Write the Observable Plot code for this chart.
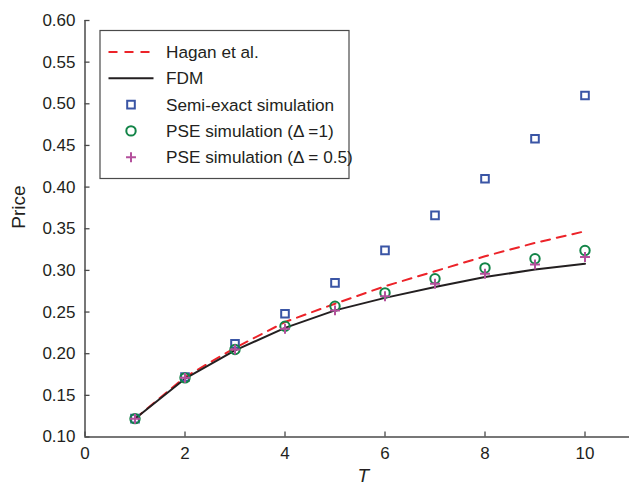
<!DOCTYPE html>
<html>
<head>
<meta charset="utf-8">
<script src="https://cdn.jsdelivr.net/npm/d3@7"></script>
<script src="https://cdn.jsdelivr.net/npm/@observablehq/plot@0.6"></script>
<style>
  html, body { margin: 0; padding: 0; background: #fff; }
  #chart { position: relative; width: 629px; height: 491px; }
  svg { font-family: "Liberation Sans", Arial, Helvetica, sans-serif; }
</style>
</head>
<body>
<div id="chart"></div>
<script>
const T = [1, 2, 3, 4, 5, 6, 7, 8, 9, 10];
const hagan = [0.122, 0.172, 0.207, 0.238, 0.260, 0.281, 0.299, 0.317, 0.333, 0.347];
const fdm = [0.122, 0.170, 0.204, 0.231, 0.252, 0.267, 0.280, 0.292, 0.301, 0.308];
const semiExact = [0.122, 0.172, 0.212, 0.248, 0.285, 0.324, 0.366, 0.410, 0.458, 0.510];
const pse1 = [0.122, 0.171, 0.205, 0.233, 0.257, 0.273, 0.290, 0.303, 0.314, 0.324];
const pse05 = [0.122, 0.171, 0.205, 0.230, 0.252, 0.269, 0.284, 0.296, 0.307, 0.316];

const xTicks = [0, 2, 4, 6, 8, 10];
const yTicks = [0.10, 0.15, 0.20, 0.25, 0.30, 0.35, 0.40, 0.45, 0.50, 0.55, 0.60];

const seriesNames = ["Hagan et al.", "FDM", "Semi-exact simulation", "PSE simulation (\u0394 =1)", "PSE simulation (\u0394 = 0.5)"];

const RED = "#ec2329", BLACK = "#231f20", BLUE = "#3a55a5", GREEN = "#128447", MAGENTA = "#b4509c", AXIS = "#4a4a4a";

const rows = (ys) => T.map((t, i) => ({T: t, v: ys[i]}));

const W = 629, H = 491;
const ML = 84.5, MR = 0, MT = 20, MB = 54.5;
const plotW = W - ML - MR, plotH = H - MT - MB;
const TICK = 5;

const plot = Plot.plot({
  width: W,
  height: H,
  marginLeft: ML,
  marginRight: MR,
  marginTop: MT,
  marginBottom: MB,
  style: {fontFamily: '"Liberation Sans", Arial, Helvetica, sans-serif', fontSize: "17px", color: BLACK, background: "#fff"},
  x: {domain: [0, 10.89], label: null},
  y: {domain: [0.1, 0.6], label: null},
  marks: [
    Plot.axisX(xTicks, {tickSize: 0, tickPadding: 10, fill: BLACK, fontSize: 17, label: null}),
    Plot.axisY(yTicks, {tickSize: 0, tickPadding: 9.5, fill: BLACK, fontSize: 17, tickFormat: d3.format(".2f"), label: null}),
    Plot.tickX(xTicks, {x: (d) => d, insetTop: plotH - TICK, stroke: AXIS, strokeWidth: 1.3}),
    Plot.tickY(yTicks, {y: (d) => d, insetRight: plotW - TICK, stroke: AXIS, strokeWidth: 1.3}),
    Plot.ruleX([0], {y1: 0.1, y2: 0.6, stroke: AXIS, strokeWidth: 1.5}),
    Plot.ruleY([0.1], {stroke: AXIS, strokeWidth: 1.5}),
    Plot.line(rows(hagan), {x: "T", y: "v", stroke: RED, strokeWidth: 2, strokeDasharray: "9,7"}),
    Plot.line(rows(fdm), {x: "T", y: "v", stroke: BLACK, strokeWidth: 2}),
    Plot.dot(rows(semiExact), {x: "T", y: "v", symbol: "square", r: 4.3, stroke: BLUE, strokeWidth: 2, fill: "none"}),
    Plot.dot(rows(pse1), {x: "T", y: "v", symbol: "circle", r: 4.7, stroke: GREEN, strokeWidth: 2, fill: "none"}),
    Plot.dot(rows(pse05), {x: "T", y: "v", symbol: "plus", r: 3.3, stroke: MAGENTA, strokeWidth: 2}),
    Plot.text(["T"], {frameAnchor: "bottom", dy: 45, dx: 6, fontSize: 19, fontStyle: "italic", fill: BLACK}),
    Plot.text(["Price"], {frameAnchor: "left", rotate: -90, dx: -66.5, fontSize: 19, fill: BLACK})
  ]
});

document.getElementById("chart").appendChild(plot);

// Legend drawn inside the plot area
const svg = d3.select(plot);
const lg = svg.append("g").attr("class", "legend").attr("text-anchor", "start");
const lx = 100, ly = 30.5, lw = 249, lh = 148;
lg.append("rect").attr("x", lx).attr("y", ly).attr("width", lw).attr("height", lh)
  .attr("fill", "#fff").attr("stroke", AXIS).attr("stroke-width", 1.2);
const rowY = (i) => ly + 21.5 + i * 26.3;
const sx1 = lx + 8.5, sx2 = lx + 53.5, sxm = (sx1 + sx2) / 2, tx = lx + 66;
const symbolPath = (type, r) => d3.symbol(type, Math.PI * r * r)();
seriesNames.forEach((name, i) => {
  const y = rowY(i);
  if (i === 0) {
    lg.append("line").attr("x1", sx1).attr("x2", sx2).attr("y1", y).attr("y2", y)
      .attr("stroke", RED).attr("stroke-width", 2).attr("stroke-dasharray", "9,7");
  } else if (i === 1) {
    lg.append("line").attr("x1", sx1).attr("x2", sx2).attr("y1", y).attr("y2", y)
      .attr("stroke", BLACK).attr("stroke-width", 2);
  } else if (i === 2) {
    lg.append("path").attr("d", symbolPath(d3.symbolSquare, 4.3)).attr("transform", `translate(${sxm},${y})`)
      .attr("fill", "none").attr("stroke", BLUE).attr("stroke-width", 2);
  } else if (i === 3) {
    lg.append("path").attr("d", symbolPath(d3.symbolCircle, 4.7)).attr("transform", `translate(${sxm},${y})`)
      .attr("fill", "none").attr("stroke", GREEN).attr("stroke-width", 2);
  } else {
    lg.append("path").attr("d", symbolPath(d3.symbolPlus, 3.3)).attr("transform", `translate(${sxm},${y})`)
      .attr("fill", "none").attr("stroke", MAGENTA).attr("stroke-width", 2);
  }
  lg.append("text").attr("x", tx).attr("y", y).attr("dy", "0.35em").attr("text-anchor", "start")
    .attr("font-size", 17.2).attr("fill", BLACK).text(name);
});
</script>
</body>
</html>
